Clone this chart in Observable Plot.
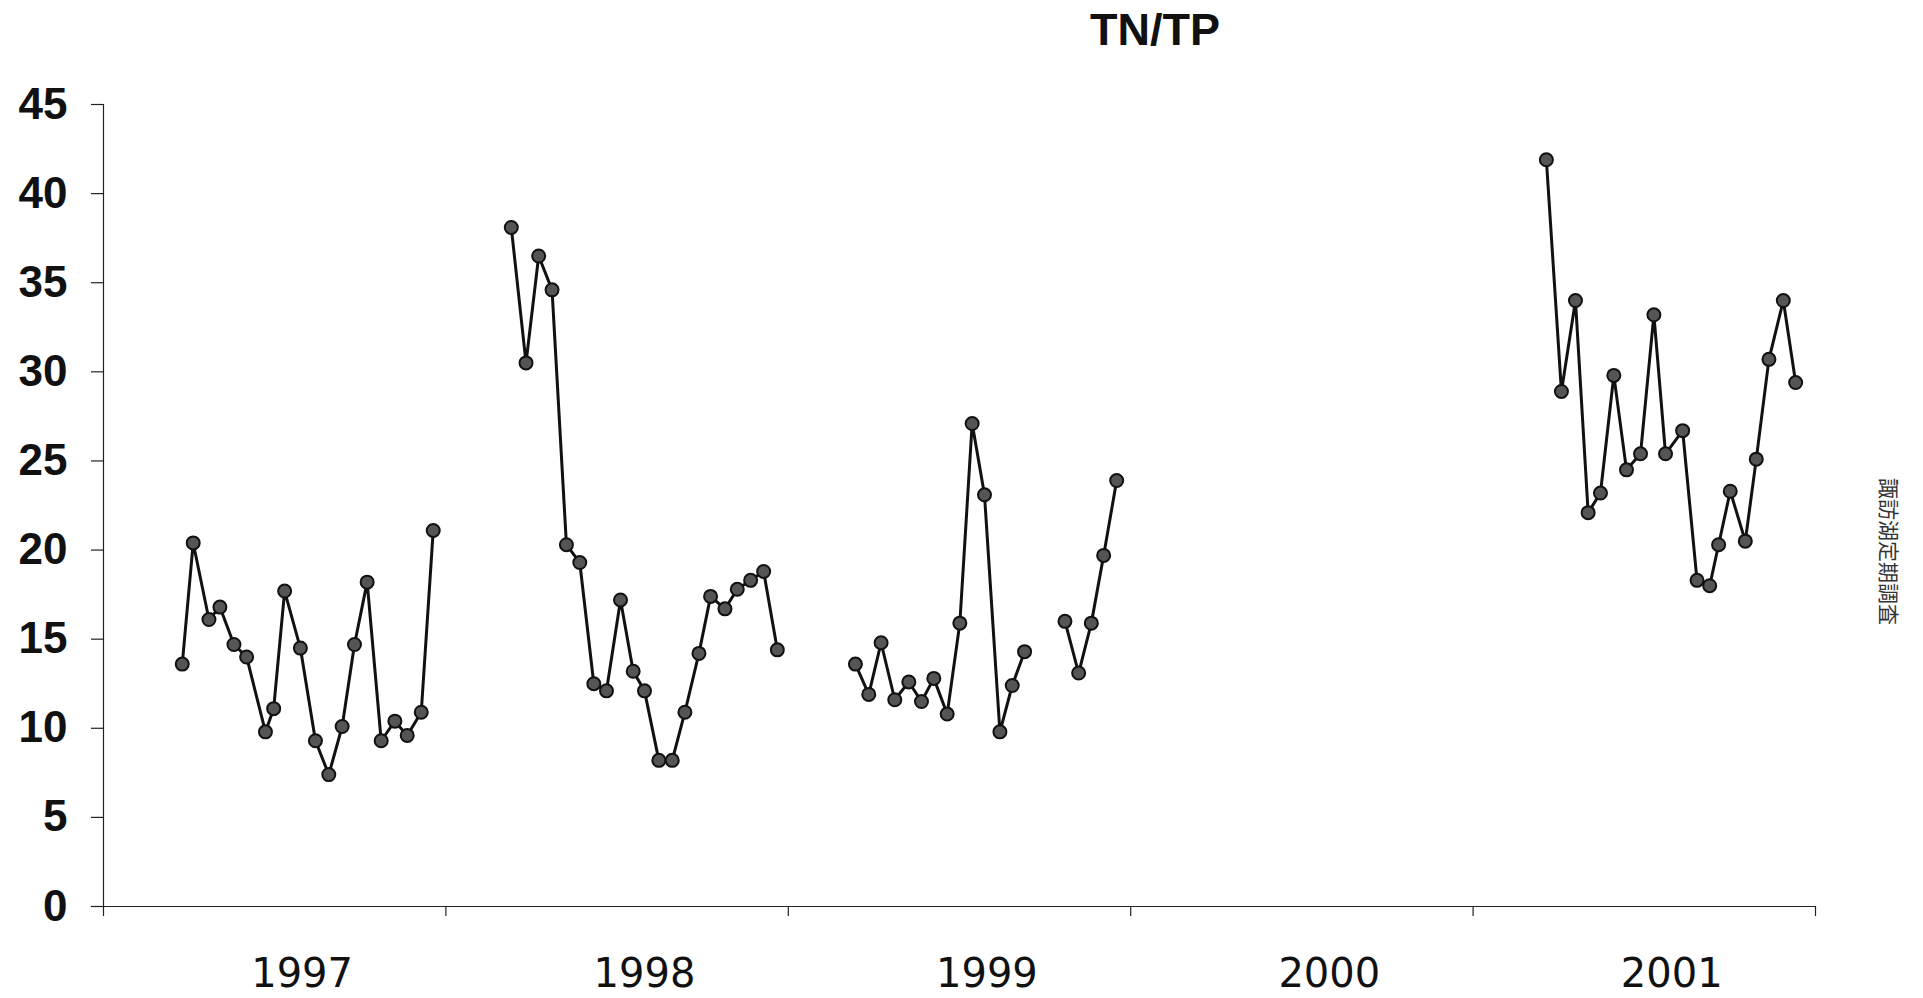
<!DOCTYPE html>
<html>
<head>
<meta charset="utf-8">
<script src="https://cdn.jsdelivr.net/npm/d3@7"></script>
<script src="https://cdn.jsdelivr.net/npm/@observablehq/plot@0.6"></script>
<style>
  html, body { margin: 0; padding: 0; background: #fff; }
  #chart svg { display: block; }
</style>
</head>
<body>
<div id="chart"></div>
<script>
// Chart texts
const title = "TN/TP";
const sourceNote = "諏訪湖定期調査";

// Axis ticks
const yTicks = [0, 5, 10, 15, 20, 25, 30, 35, 40, 45];
const yearBounds = [1997, 1998, 1999, 2000, 2001, 2002];
const yearLabels = ["1997", "1998", "1999", "2000", "2001"];

// Sampling dates (decimal years) and TN/TP values, one array per continuous run
const t1997 = [1997.230, 1997.262, 1997.308, 1997.340, 1997.381, 1997.418, 1997.473, 1997.497, 1997.529, 1997.575,
               1997.619, 1997.658, 1997.697, 1997.733, 1997.770, 1997.811, 1997.851, 1997.887, 1997.928, 1997.963];
const v1997 = [13.6, 20.4, 16.1, 16.8, 14.7, 14.0, 9.8, 11.1, 17.7, 14.5,
               9.3, 7.4, 10.1, 14.7, 18.2, 9.3, 10.4, 9.6, 10.9, 21.1];

const t1998 = [1998.191, 1998.234, 1998.271, 1998.310, 1998.352, 1998.391, 1998.432, 1998.469, 1998.510, 1998.547,
               1998.580, 1998.622, 1998.661, 1998.698, 1998.739, 1998.773, 1998.815, 1998.851, 1998.890, 1998.928, 1998.968];
const v1998 = [38.1, 30.5, 36.5, 34.6, 20.3, 19.3, 12.5, 12.1, 17.2, 13.2,
               12.1, 8.2, 8.2, 10.9, 14.2, 17.4, 16.7, 17.8, 18.3, 18.8, 14.4];

const t1999a = [1999.196, 1999.235, 1999.271, 1999.311, 1999.352, 1999.389, 1999.425, 1999.464, 1999.501, 1999.537,
                1999.573, 1999.618, 1999.654, 1999.690];
const v1999a = [13.6, 11.9, 14.8, 11.6, 12.6, 11.5, 12.8, 10.8, 15.9, 27.1,
                23.1, 9.8, 12.4, 14.3];

const t1999b = [1999.808, 1999.848, 1999.885, 1999.921, 1999.959];
const v1999b = [16.0, 13.1, 15.9, 19.7, 23.9];

const t2001 = [2001.214, 2001.258, 2001.299, 2001.336, 2001.372, 2001.411, 2001.448, 2001.489, 2001.528, 2001.562,
               2001.612, 2001.654, 2001.691, 2001.717, 2001.751, 2001.795, 2001.827, 2001.864, 2001.906, 2001.942];
const v2001 = [41.9, 28.9, 34.0, 22.1, 23.2, 29.8, 24.5, 25.4, 33.2, 25.4,
               26.7, 18.3, 18.0, 20.3, 23.3, 20.5, 25.1, 30.7, 34.0, 29.4];

const runs = [
  ["1997", t1997, v1997],
  ["1998", t1998, v1998],
  ["1999a", t1999a, v1999a],
  ["1999b", t1999b, v1999b],
  ["2001", t2001, v2001]
];
const rows = runs.flatMap(([g, ts, vs]) => ts.map((t, i) => ({g, t, v: vs[i]})));

// label offset inside each year interval (Excel-style year label placement)
const labelOffset = 0.58;
const labelRows = yearLabels.map(s => ({pos: +s + labelOffset, s}));

const numFont = "'Liberation Sans', Arial, sans-serif";
const yearFont = "'DejaVu Sans', 'Liberation Sans', sans-serif";

const chart = Plot.plot({
  width: 1923,
  height: 998,
  marginLeft: 103,
  marginRight: 108,
  marginTop: 104,
  marginBottom: 92,
  style: {background: "#fff", color: "#111", fontFamily: numFont},
  x: {domain: [1997, 2002], label: null},
  y: {domain: [0, 45], label: null},
  marks: [
    Plot.axisY({ticks: yTicks, tickSize: 12, tickPadding: 24, fontSize: 44, fontWeight: "bold",
                stroke: "#222", strokeWidth: 1.2, label: null}),
    Plot.axisX({ticks: yearBounds, tickSize: 10, tickFormat: () => "", stroke: "#222", strokeWidth: 1.2, label: null}),
    Plot.text(labelRows, {x: "pos", text: "s", frameAnchor: "bottom", dy: 80, fontSize: 40,
                          fontFamily: yearFont, fill: "#111", lineAnchor: "bottom"}),
    Plot.ruleX([1997], {stroke: "#222", strokeWidth: 1.2}),
    Plot.ruleY([0], {stroke: "#222", strokeWidth: 1.2}),
    Plot.line(rows, {x: "t", y: "v", z: "g", stroke: "#111", strokeWidth: 3}),
    Plot.dot(rows, {x: "t", y: "v", r: 6.5, fill: "#555", stroke: "#111", strokeWidth: 2})
  ]
});

document.getElementById("chart").appendChild(chart);

const svg = d3.select(chart);
svg.append("text")
  .attr("x", 1155).attr("y", 45)
  .attr("text-anchor", "middle")
  .attr("font-family", numFont)
  .attr("font-weight", "bold")
  .attr("font-size", 45)
  .attr("fill", "#111")
  .text(title);

svg.append("text")
  .attr("transform", "translate(1881,478) rotate(90)")
  .attr("text-anchor", "start")
  .attr("font-family", "'Noto Sans CJK JP', sans-serif")
  .attr("font-size", 21)
  .attr("fill", "#333")
  .text(sourceNote);
</script>
</body>
</html>
